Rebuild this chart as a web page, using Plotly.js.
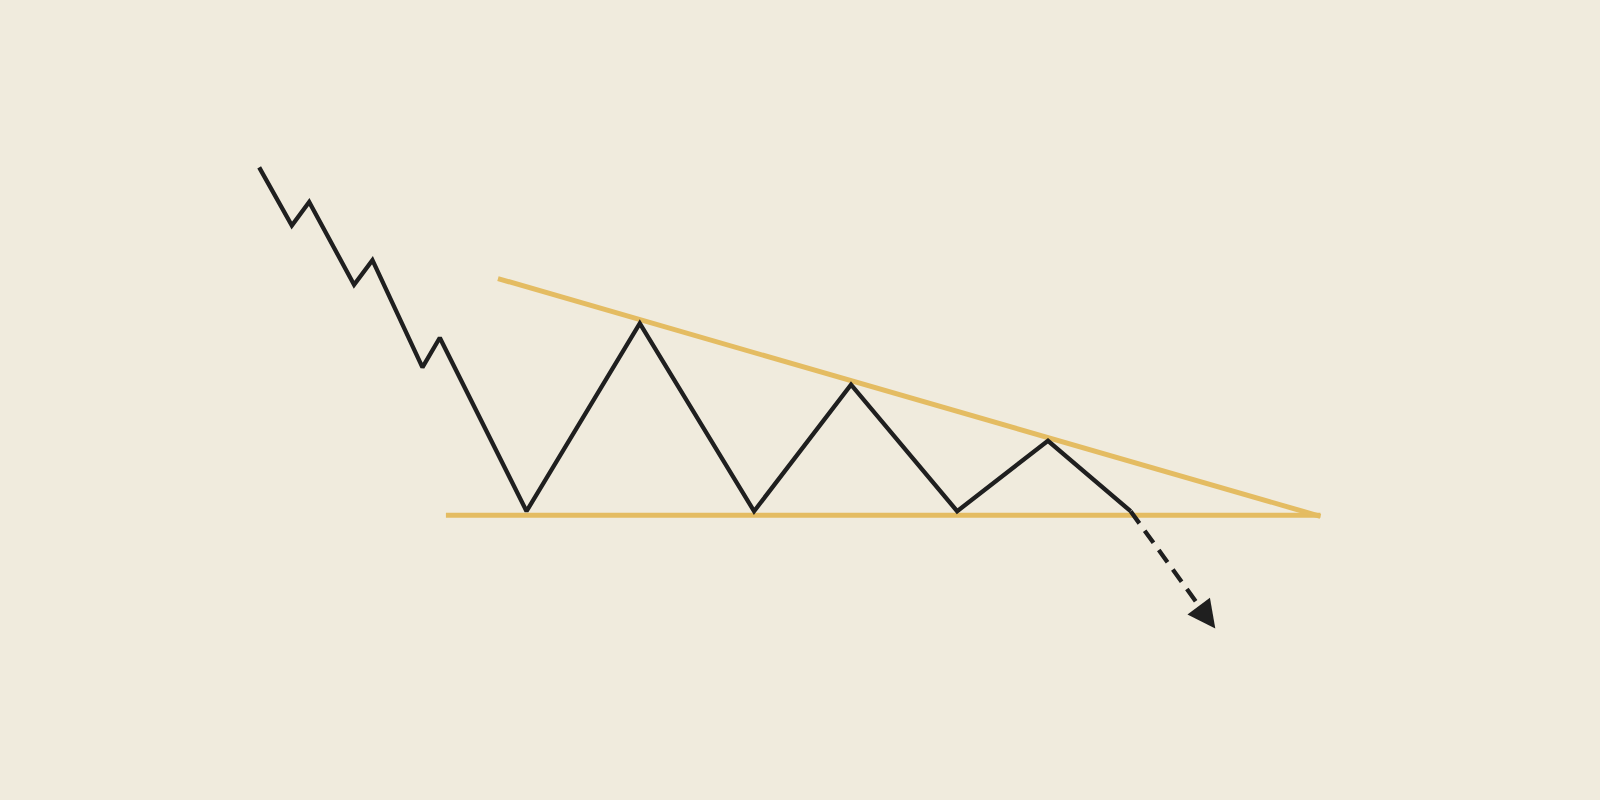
<!DOCTYPE html>
<html>
<head>
<meta charset="utf-8">
<script src="https://cdn.plot.ly/plotly-3.0.1.min.js"></script>
<style>
  html, body { margin: 0; padding: 0; background: #f0ebdd; }
  #chart { width: 1600px; height: 800px; }
</style>
</head>
<body>
<div id="chart"></div>
<script>
// price path (picture coords: x to the right, y downward)
var priceX = [254, 286, 303, 347, 365, 414, 431, 516, 627, 739, 834, 938, 1027, 1108];
var priceY = [164, 221, 198, 279, 255, 360, 331, 501, 317, 501, 377, 501, 432, 501];

// breakout projection
var breakX = [1108, 1176];
var breakY = [501, 595];
var arrowTail = [1174, 593];
var arrowTip = [1191, 616];

// triangle boundaries
var resistX = [488, 1294];
var resistY = [273, 506];
var supportX = [437, 1294];
var supportY = [505, 505];

var gold = '#e4bc62';
var ink = '#1f1f1f';

var traces = [
    {
        x: supportX, y: supportY, mode: 'lines', type: 'scatter',
        line: { color: gold, width: 5 }, hoverinfo: 'skip'
    },
    {
        x: resistX, y: resistY, mode: 'lines', type: 'scatter',
        line: { color: gold, width: 5 }, hoverinfo: 'skip'
    },
    {
        x: priceX, y: priceY, mode: 'lines', type: 'scatter',
        line: { color: ink, width: 4.3 }, hoverinfo: 'skip'
    },
    {
        x: breakX, y: breakY, mode: 'lines', type: 'scatter',
        line: { color: ink, width: 4.3, dash: '15px,9px' }, hoverinfo: 'skip'
    }
];

var layout = {
    width: 1600,
    height: 800,
    margin: { l: 0, r: 0, t: 0, b: 0 },
    paper_bgcolor: '#f0ebdd',
    plot_bgcolor: '#f0ebdd',
    showlegend: false,
    xaxis: { range: [0, 1568], visible: false, fixedrange: true },
    yaxis: { range: [784, 0], visible: false, fixedrange: true },
    annotations: [{
        x: arrowTip[0], y: arrowTip[1], xref: 'x', yref: 'y',
        ax: arrowTail[0], ay: arrowTail[1], axref: 'x', ayref: 'y',
        showarrow: true, arrowhead: 2, arrowsize: 1.3, arrowwidth: 4.3,
        arrowcolor: ink, text: ''
    }]
};

Plotly.newPlot('chart', traces, layout, { displayModeBar: false, staticPlot: true });
</script>
</body>
</html>
